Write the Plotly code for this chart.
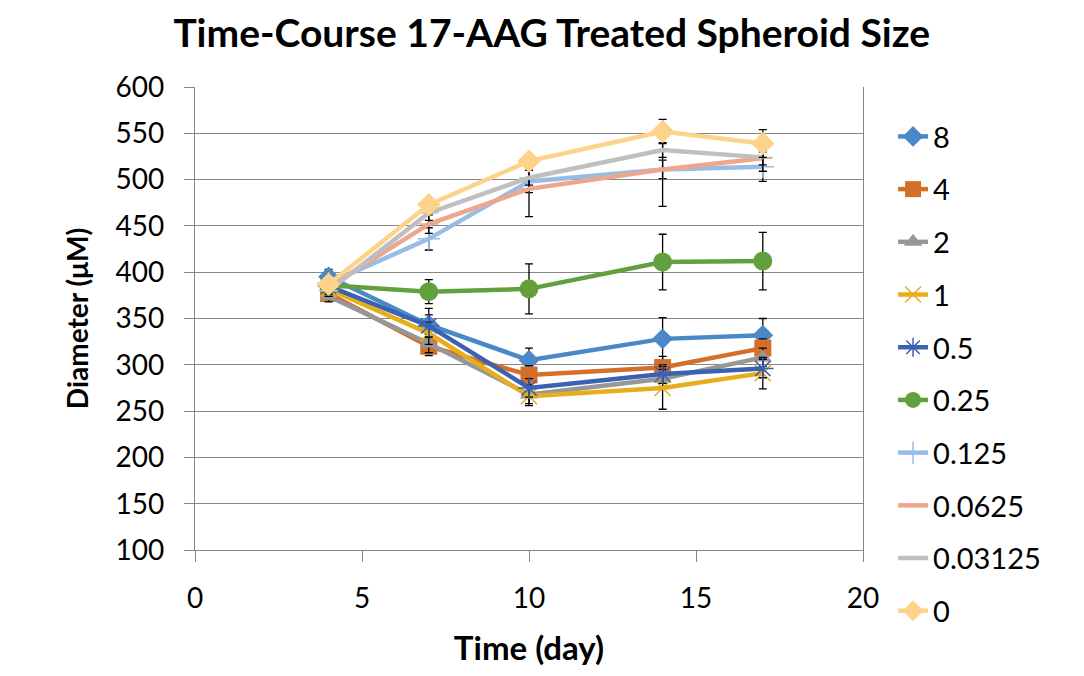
import plotly.graph_objects as go

days = [4, 7, 10, 14, 17]
series_names = ["8", "4", "2", "1", "0.5", "0.25", "0.125", "0.0625", "0.03125", "0"]

d_8 = [395, 343, 305, 328, 332]
d_4 = [377, 320, 289, 297, 318]
d_2 = [374, 323, 268, 285, 308]
d_1 = [382, 334, 266, 275, 291]
d_05 = [385, 342, 275, 290, 296]
d_025 = [386, 379, 382, 411, 412]
d_0125 = [388, 436, 498, 511, 514]
d_00625 = [384, 452, 490, 511, 523]
d_003125 = [380, 464, 502, 532, 524]
d_0 = [387, 473, 520, 552, 539]

e_8 = [8, 18, 13, 23, 18]
e_4 = [6, 10, 10, 12, 10]
e_2 = [6, 10, 10, 10, 10]
e_1 = [6, 12, 10, 23, 17]
e_05 = [6, 12, 10, 10, 10]
e_025 = [6, 13, 27, 30, 31]
e_0125 = [6, 12, 12, 10, 16]
e_00625 = [6, 10, 30, 40, 14]
e_003125 = [6, 8, 8, 8, 8]
e_0 = [6, 7, 6, 13, 15]

values = [d_8, d_4, d_2, d_1, d_05, d_025, d_0125, d_00625, d_003125, d_0]
errors = [e_8, e_4, e_2, e_1, e_05, e_025, e_0125, e_00625, e_003125, e_0]

colors = ["#4A89C8", "#D46F2A", "#979797", "#E6AE1F", "#3A62B0",
          "#62A03D", "#97BDE6", "#EEA68C", "#BFBFBF", "#FDD38C"]
symbols = ["diamond", "square", "triangle-up", "x-thin", "asterisk",
           "circle", "cross-thin", "line-ew", "line-ew", "diamond"]
sizes = [16, 17, 16, 16, 18, 19, 16, 14, 14, 18]

FONT = "Lato"

fig = go.Figure()
for i, name in enumerate(series_names):
    sym = symbols[i]
    thin = sym in ("x-thin", "asterisk", "cross-thin", "line-ew")
    fig.add_trace(go.Scatter(
        x=days, y=values[i], name=name, mode="lines+markers",
        legendgroup=name,
        line=dict(color=colors[i], width=4.5),
        marker=dict(symbol=sym, size=sizes[i], color=colors[i],
                    line=dict(color=colors[i], width=1.5 if thin else 0)),
        error_y=dict(type="data", array=errors[i], visible=True,
                     color="black", thickness=1.3, width=4),
    ))

fig.update_layout(
    width=1084, height=676,
    margin=dict(l=195, r=221, t=87, b=126),
    paper_bgcolor="white", plot_bgcolor="white",
    font=dict(family=FONT, size=28, color="black"),
    title=dict(text="<b>Time-Course 17-AAG Treated Spheroid Size</b>",
               x=0.509, xanchor="center", y=0.951, yanchor="middle",
               font=dict(family=FONT, size=39, color="black")),
    legend=dict(x=1.045, xanchor="left", y=0.948, yanchor="top",
                font=dict(family=FONT, size=29), tracegroupgap=12,
                itemwidth=30, bgcolor="rgba(0,0,0,0)", maxheight=676),
    showlegend=True,
)
fig.update_xaxes(
    range=[0, 20], dtick=5, tick0=0,
    showgrid=False, zeroline=False,
    showline=True, linecolor="#868686", linewidth=1.3,
    ticks="outside", ticklen=11, tickcolor="#868686",
    ticklabelstandoff=12,
    tickfont=dict(family=FONT, size=28),
    title=dict(text="<b>Time (day)</b>", font=dict(family=FONT, size=33), standoff=24),
)
fig.update_yaxes(
    range=[100, 600], dtick=50, tick0=100,
    showgrid=True, gridcolor="#868686", gridwidth=1.3, zeroline=False,
    showline=True, linecolor="#868686", linewidth=1.3, mirror=True,
    ticks="outside", ticklen=10, tickcolor="#868686",
    ticklabelstandoff=14,
    tickfont=dict(family=FONT, size=28),
    title=dict(text="<b>Diameter (μM)</b>", font=dict(family=FONT, size=28), standoff=18),
)

fig.write_html("out.html")
